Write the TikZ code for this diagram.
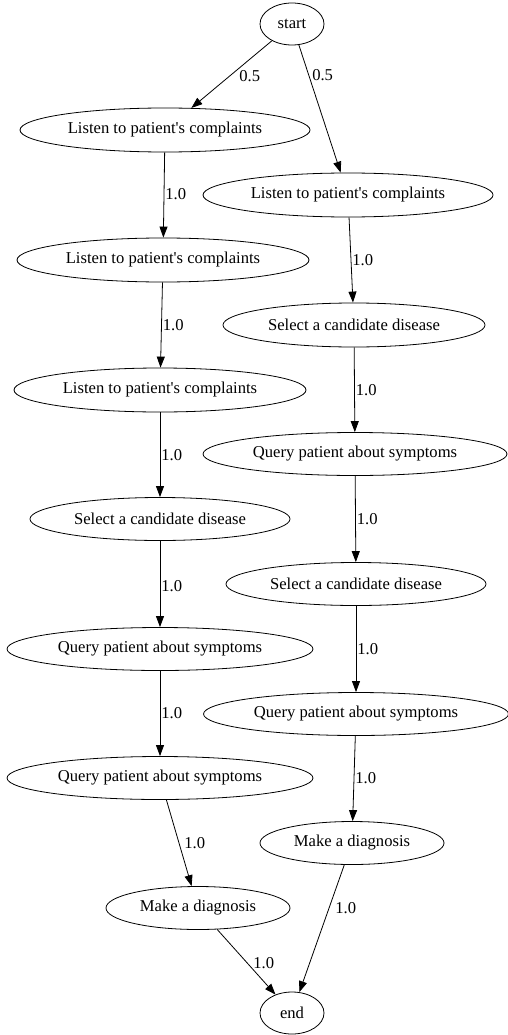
\documentclass[tikz,border=0pt]{standalone}
\usepackage{fontspec}
\setmainfont{Liberation Serif}[Ligatures=TeXOff]
\usetikzlibrary{shapes.geometric,arrows.meta}
\begin{document}
\begin{tikzpicture}[x=1pt,y=-1pt,
  st/.style={draw, ellipse, inner sep=0pt, line width=0.8pt, font=\fontsize{16.6}{19}\selectfont},
  arr/.style={-{Triangle[length=11pt,width=8pt]}, line width=0.8pt},
  lbl/.style={anchor=west, inner sep=1pt, font=\fontsize{16.6}{19}\selectfont}]
\useasboundingbox (0,0) rectangle (508,1035);
% nodes
\node[st, minimum width=64pt, minimum height=42pt] (start) at (292,24) {start};
\node[st, minimum width=290pt, minimum height=44pt] (L1) at (165,130) {Listen to patient's complaints};
\node[st, minimum width=290pt, minimum height=44pt] (R1) at (348,195) {Listen to patient's complaints};
\node[st, minimum width=292pt, minimum height=44pt] (L2) at (163,260) {Listen to patient's complaints};
\node[st, minimum width=262pt, minimum height=44pt] (R2) at (354,325) {Select a candidate disease};
\node[st, minimum width=292pt, minimum height=44pt] (L3) at (160,390) {Listen to patient's complaints};
\node[st, minimum width=304pt, minimum height=43pt] (R3) at (355,454) {Query patient about symptoms};
\node[st, minimum width=260pt, minimum height=43pt] (L4) at (160,519) {Select a candidate disease};
\node[st, minimum width=260pt, minimum height=43pt] (R4) at (356,584) {Select a candidate disease};
\node[st, minimum width=306pt, minimum height=43pt] (L5) at (160,649) {Query patient about symptoms};
\node[st, minimum width=305pt, minimum height=43pt] (R5) at (356,714) {Query patient about symptoms};
\node[st, minimum width=306pt, minimum height=43pt] (L6) at (160,778) {Query patient about symptoms};
\node[st, minimum width=184pt, minimum height=43pt] (R6) at (352,843) {Make a diagnosis};
\node[st, minimum width=184pt, minimum height=43pt] (L7) at (198,908) {Make a diagnosis};
\node[st, minimum width=64pt, minimum height=42pt] (end) at (292,1013) {end};
% edges
\draw[arr] (start) -- node[lbl, pos=0.52, xshift=8pt] (e1) {0.5} (L1);
\draw[arr] (start) -- node[lbl, pos=0.24, xshift=2pt] (e2) {0.5} (R1);
\draw[arr] (L1) -- node[lbl, pos=0.49] (e3) {1.0} (L2);
\draw[arr] (L2) -- node[lbl, pos=0.5] (e4) {1.0} (L3);
\draw[arr] (L3) -- node[lbl, pos=0.5] (e5) {1.0} (L4);
\draw[arr] (L4) -- node[lbl, pos=0.52] (e6) {1.0} (L5);
\draw[arr] (L5) -- node[lbl, pos=0.5] (e7) {1.0} (L6);
\draw[arr] (L6) -- node[lbl, pos=0.5, xshift=4pt] (e8) {1.0} (L7);
\draw[arr] (L7) -- node[lbl, pos=0.51, xshift=5pt] (e9) {1.0} (end);
\draw[arr] (R1) -- node[lbl, pos=0.5] (e10) {1.0} (R2);
\draw[arr] (R2) -- node[lbl, pos=0.5] (e11) {1.0} (R3);
\draw[arr] (R3) -- node[lbl, pos=0.5] (e12) {1.0} (R4);
\draw[arr] (R4) -- node[lbl, pos=0.5] (e13) {1.0} (R5);
\draw[arr] (R5) -- node[lbl, pos=0.5] (e14) {1.0} (R6);
\draw[arr] (R6) -- node[lbl, pos=0.34, xshift=5pt] (e15) {1.0} (end);
\end{tikzpicture}
\end{document}
